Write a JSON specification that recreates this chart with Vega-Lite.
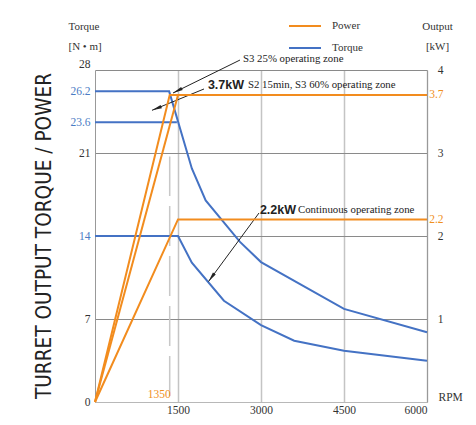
{
  "$schema": "https://vega.github.io/schema/vega-lite/v6.json",
  "width": 332,
  "height": 332,
  "autosize": {"type": "none"},
  "padding": {"left": 95, "top": 70, "right": 49, "bottom": 23},
  "background": "#ffffff",
  "title": {
    "text": "TURRET OUTPUT TORQUE / POWER",
    "orient": "left",
    "anchor": "middle",
    "font": "Liberation Sans Narrow, DejaVu Sans Condensed, Liberation Sans",
    "fontSize": 20.6,
    "fontWeight": "normal",
    "color": "#222222",
    "offset": 12
  },
  "datasets": {
    "torque": [
      {"series": "S3 25%", "kind": "Torque", "rpm": 0, "nm": 26.2},
      {"series": "S3 25%", "kind": "Torque", "rpm": 1340, "nm": 26.2},
      {"series": "S3 25%", "kind": "Torque", "rpm": 1750, "nm": 19.7},
      {"series": "S3 25%", "kind": "Torque", "rpm": 2000, "nm": 17.0},
      {"series": "S3 25%", "kind": "Torque", "rpm": 2620, "nm": 13.5},
      {"series": "S3 25%", "kind": "Torque", "rpm": 3000, "nm": 11.8},
      {"series": "S3 25%", "kind": "Torque", "rpm": 4500, "nm": 7.85},
      {"series": "S3 25%", "kind": "Torque", "rpm": 6000, "nm": 5.88},
      {"series": "S2 15min", "kind": "Torque", "rpm": 0, "nm": 23.6},
      {"series": "S2 15min", "kind": "Torque", "rpm": 1480, "nm": 23.6},
      {"series": "Continuous", "kind": "Torque", "rpm": 0, "nm": 14},
      {"series": "Continuous", "kind": "Torque", "rpm": 1500, "nm": 14},
      {"series": "Continuous", "kind": "Torque", "rpm": 1750, "nm": 11.75},
      {"series": "Continuous", "kind": "Torque", "rpm": 2330, "nm": 8.54},
      {"series": "Continuous", "kind": "Torque", "rpm": 3000, "nm": 6.49},
      {"series": "Continuous", "kind": "Torque", "rpm": 3600, "nm": 5.17},
      {"series": "Continuous", "kind": "Torque", "rpm": 4500, "nm": 4.33},
      {"series": "Continuous", "kind": "Torque", "rpm": 6000, "nm": 3.48}
    ],
    "power": [
      {"series": "S3 25%", "kind": "Power", "rpm": 0, "kw": 0},
      {"series": "S3 25%", "kind": "Power", "rpm": 1350, "kw": 3.7},
      {"series": "S3 25%", "kind": "Power", "rpm": 6000, "kw": 3.7},
      {"series": "S2 15min", "kind": "Power", "rpm": 0, "kw": 0},
      {"series": "S2 15min", "kind": "Power", "rpm": 1500, "kw": 3.7},
      {"series": "Continuous", "kind": "Power", "rpm": 0, "kw": 0},
      {"series": "Continuous", "kind": "Power", "rpm": 1500, "kw": 2.2},
      {"series": "Continuous", "kind": "Power", "rpm": 6000, "kw": 2.2}
    ],
    "arrows": [
      {"id": "a1", "rpm": 2620, "nm": 28.84, "rpm2": 1410, "nm2": 26.06},
      {"id": "a2", "rpm": 1970, "nm": 26.4, "rpm2": 1030, "nm2": 24.6},
      {"id": "a3", "rpm": 2964, "nm": 15.94, "rpm2": 2051, "nm2": 10.16}
    ],
    "boldNotes": [
      {"text": "3.7kW", "rpm": 2040, "nm": 26.73},
      {"text": "2.2kW", "rpm": 2980, "nm": 16.19}
    ],
    "notes": [
      {"text": "S3 25% operating zone", "rpm": 2675, "nm": 28.9},
      {"text": "S2 15min, S3 60% operating zone", "rpm": 2765, "nm": 26.73},
      {"text": "Continuous operating zone", "rpm": 3669, "nm": 16.19}
    ],
    "marker": [
      {"label": "1350", "rpm": 1350, "from": 0.5, "to": 20.7}
    ]
  },
  "layer": [
    {
      "layer": [
        {
          "data": {"name": "marker"},
          "mark": {"type": "rule", "color": "#c8c8c8", "strokeWidth": 1.5, "strokeDash": [40, 10]},
          "encoding": {
            "x": {"field": "rpm", "type": "quantitative", "scale": {"domain": [0, 6000], "nice": false}},
            "y": {"field": "from", "type": "quantitative", "scale": {"domain": [0, 28], "nice": false}},
            "y2": {"field": "to"}
          }
        },
        {
          "data": {"name": "marker"},
          "mark": {"type": "text", "align": "right", "baseline": "middle", "dx": 1, "dy": -7, "font": "Liberation Serif", "fontSize": 11.5, "color": "#f0901e"},
          "encoding": {
            "x": {"field": "rpm", "type": "quantitative"},
            "y": {"datum": 0, "type": "quantitative"},
            "text": {"field": "label"}
          }
        },
        {
          "data": {"name": "torque"},
          "mark": {"type": "line", "strokeWidth": 2},
          "encoding": {
            "x": {"field": "rpm", "type": "quantitative", "scale": {"domain": [0, 6000], "nice": false},
              "axis": {
                "values": [1500, 3000, 4500, 6000],
                "labelExpr": "'' + datum.value",
                "title": "RPM",
                "titleX": 343, "titleY": -5, "titleAlign": "left", "titleBaseline": "middle",
                "titleFont": "Liberation Serif", "titleFontSize": 11.5, "titleFontWeight": "normal", "titleColor": "#333333",
                "domain": true, "domainColor": "#b8b8b8",
                "ticks": false, "labelPadding": 2,
                "grid": true, "gridColor": "#c4c4c4", "gridWidth": 1.5,
                "labelFont": "Liberation Serif", "labelFontSize": 11.5, "labelColor": "#333333"
              }
            },
            "y": {"field": "nm", "type": "quantitative", "scale": {"domain": [0, 28], "nice": false},
              "axis": {
                "values": [0, 7, 14, 21, 23.6, 26.2, 28],
                "labelExpr": "'' + datum.value",
                "title": ["Torque", "[N • m]"],
                "titleAngle": 0, "titleAlign": "left", "titleBaseline": "top",
                "titleX": -27, "titleY": -50, "titleLineHeight": 20,
                "titleFont": "Liberation Serif", "titleFontSize": 11, "titleFontWeight": "normal", "titleColor": "#333333",
                "labelFont": "Liberation Serif", "labelFontSize": 11.5,
                "labelColor": {"condition": {"test": "datum.value == 14 || datum.value == 23.6 || datum.value == 26.2", "value": "#4a7cc4"}, "value": "#333333"},
                "labelOffset": {"condition": {"test": "datum.value == 28", "value": -6}, "value": 0},
                "ticks": false, "labelPadding": 5,
                "domainColor": "#999999",
                "grid": true, "gridColor": "#8a8a8a", "gridWidth": 1,
                "gridOpacity": {"condition": {"test": "datum.value == 0 || datum.value == 23.6 || datum.value == 26.2", "value": 0}, "value": 1}
              }
            },
            "color": {"field": "kind", "type": "nominal",
              "scale": {"domain": ["Power", "Torque"], "range": ["#f28c1e", "#4472c4"]},
              "legend": {
                "title": null, "orient": "none", "legendX": 193, "legendY": -61,
                "symbolType": "stroke", "symbolSize": 1024, "symbolStrokeWidth": 2,
                "labelFont": "Liberation Serif", "labelFontSize": 11, "labelColor": "#333333",
                "labelOffset": 10, "rowPadding": 0
              }
            },
            "detail": {"field": "series"}
          }
        },
        {
          "data": {"name": "arrows"},
          "mark": {"type": "rule", "color": "#222222", "strokeWidth": 1},
          "encoding": {
            "x": {"field": "rpm", "type": "quantitative"},
            "y": {"field": "nm", "type": "quantitative"},
            "x2": {"field": "rpm2"},
            "y2": {"field": "nm2"}
          }
        },
        {
          "data": {"name": "arrows"},
          "transform": [{"filter": "datum.id == 'a1'"}],
          "mark": {"type": "point", "shape": "M0,0L0.35,2L-0.35,2Z", "size": 100, "filled": true, "color": "#222222", "opacity": 1, "angle": 243},
          "encoding": {
            "x": {"field": "rpm2", "type": "quantitative"},
            "y": {"field": "nm2", "type": "quantitative"}
          }
        },
        {
          "data": {"name": "arrows"},
          "transform": [{"filter": "datum.id == 'a2'"}],
          "mark": {"type": "point", "shape": "M0,0L0.35,2L-0.35,2Z", "size": 100, "filled": true, "color": "#222222", "opacity": 1, "angle": 248},
          "encoding": {
            "x": {"field": "rpm2", "type": "quantitative"},
            "y": {"field": "nm2", "type": "quantitative"}
          }
        },
        {
          "data": {"name": "arrows"},
          "transform": [{"filter": "datum.id == 'a3'"}],
          "mark": {"type": "point", "shape": "M0,0L0.35,2L-0.35,2Z", "size": 100, "filled": true, "color": "#222222", "opacity": 1, "angle": 216},
          "encoding": {
            "x": {"field": "rpm2", "type": "quantitative"},
            "y": {"field": "nm2", "type": "quantitative"}
          }
        },
        {
          "data": {"name": "boldNotes"},
          "mark": {"type": "text", "align": "left", "baseline": "middle", "font": "Liberation Sans", "fontWeight": "bold", "fontSize": 12.5, "color": "#222222"},
          "encoding": {
            "x": {"field": "rpm", "type": "quantitative"},
            "y": {"field": "nm", "type": "quantitative"},
            "text": {"field": "text"}
          }
        },
        {
          "data": {"name": "notes"},
          "mark": {"type": "text", "align": "left", "baseline": "middle", "font": "Liberation Serif", "fontSize": 10.8, "color": "#222222"},
          "encoding": {
            "x": {"field": "rpm", "type": "quantitative"},
            "y": {"field": "nm", "type": "quantitative"},
            "text": {"field": "text"}
          }
        }
      ]
    },
    {
      "data": {"name": "power"},
      "mark": {"type": "line", "strokeWidth": 2},
      "encoding": {
        "x": {"field": "rpm", "type": "quantitative"},
        "y": {"field": "kw", "type": "quantitative", "scale": {"domain": [0, 4], "nice": false},
          "axis": {
            "orient": "right",
            "values": [1, 2, 2.2, 3, 3.7, 4],
            "labelExpr": "'' + datum.value",
            "title": ["Output", "[kW]"],
            "titleAngle": 0, "titleAlign": "center", "titleBaseline": "top",
            "titleX": 10, "titleY": -50, "titleLineHeight": 20,
            "titleFont": "Liberation Serif", "titleFontSize": 11, "titleFontWeight": "normal", "titleColor": "#333333",
            "labelFont": "Liberation Serif", "labelFontSize": 11.5, "labelAlign": "right",
            "labelColor": {"condition": {"test": "datum.value == 2.2 || datum.value == 3.7", "value": "#f0901e"}, "value": "#333333"},
            "ticks": false, "labelPadding": 16,
            "domainColor": "#999999", "grid": false
          }
        },
        "color": {"field": "kind", "type": "nominal"},
        "detail": {"field": "series"}
      }
    }
  ],
  "resolve": {"scale": {"y": "independent"}},
  "config": {
    "view": {"stroke": null},
    "text": {"font": "Liberation Serif"}
  }
}
